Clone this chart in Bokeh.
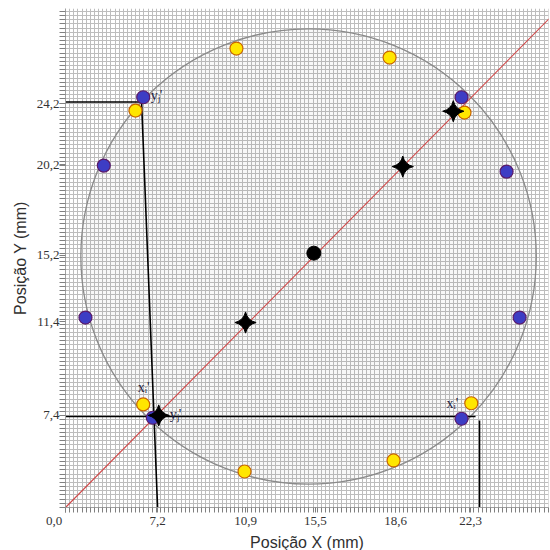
import numpy as np
from bokeh.plotting import figure
from bokeh.models import Range1d, FixedTicker
from bokeh.core.properties import value
from bokeh.embed import file_html
from bokeh.resources import INLINE

# ---- data (mm) ----
blue_x = [4.71, 24.00, 2.32, 26.73, 1.21, 27.52, 5.29, 24.00]
blue_y = [24.60, 24.60, 20.50, 20.14, 11.39, 11.39, 5.38, 5.32]
yellow_x = [10.36, 19.64, 4.24, 24.18, 4.71, 24.59, 10.85, 19.88]
yellow_y = [27.52, 26.98, 23.80, 23.68, 6.18, 6.25, 2.16, 2.82]
star_x = [5.65, 10.91, 20.44, 23.50]
star_y = [5.52, 11.09, 20.44, 23.76]
center_x = [15.05]
center_y = [15.25]
diag_x = [0.0, 29.3]
diag_y = [0.0, 29.3]
sample_cx = [14.73]
sample_cy = [15.05]
sample_r = 13.8
guide_xs = [[0.0, 4.61, 5.58], [0.0, 24.85], [25.09, 25.09]]
guide_ys = [[24.31, 24.31, 0.0], [5.46, 5.46], [5.22, 0.0]]
ann_text = ["yⱼ'", "xᵢ'", "yⱼ'", "xᵢ'"]
ann_x = [5.52, 4.73, 6.67, 23.45]
ann_y = [24.70, 7.19, 5.58, 6.24]
xtick_pos = [0.0, 5.58, 10.91, 15.15, 20.0, 24.55]
xtick_labels = ["0,0" + "\u00a0" * 7, "7,2", "10,9", "15,5", "18,6", "22,3"]
ytick_pos = [5.52, 11.15, 15.11, 20.56, 24.22]
ytick_labels = ["7,4", "11,4", "15,2", "20,2", "24,2"]
x_title = "Posição X (mm)"
y_title = "Posição Y (mm)"

XMAX, YMAX = 29.27, 29.92
p = figure(frame_width=483, frame_height=499,
           x_range=Range1d(0, XMAX), y_range=Range1d(0, YMAX),
           output_backend="svg", toolbar_location=None,
           min_border_left=65, min_border_right=2,
           min_border_top=8, min_border_bottom=43)
p.outline_line_color = None

# graph-paper grid
grid_x = list(np.arange(0, XMAX, 0.25))
grid_y = list(np.arange(0, YMAX, 0.25))
p.xgrid.ticker = FixedTicker(ticks=grid_x)
p.ygrid.ticker = FixedTicker(ticks=grid_y)
for g in (p.xgrid, p.ygrid):
    g.grid_line_color = "#bdbdbd"
    g.grid_line_width = 1

# axes
p.xaxis.ticker = FixedTicker(ticks=xtick_pos, minor_ticks=grid_x)
p.yaxis.ticker = FixedTicker(ticks=ytick_pos, minor_ticks=grid_y)
p.xaxis.major_label_overrides = dict(zip(xtick_pos, xtick_labels))
p.yaxis.major_label_overrides = dict(zip(ytick_pos, ytick_labels))
for ax in (p.xaxis, p.yaxis):
    ax.axis_line_color = "#a0a0a0"
    ax.major_tick_line_color = "#808080"
    ax.minor_tick_line_color = "#808080"
    ax.major_tick_in = 0
    ax.minor_tick_in = 0
    ax.major_label_text_font = "Liberation Serif"
    ax.major_label_text_font_size = "13px"
    ax.major_label_text_color = "#333333"
    ax.axis_label_text_font = "Liberation Sans"
    ax.axis_label_text_font_size = "16px"
    ax.axis_label_text_font_style = "normal"
    ax.axis_label_text_color = "#303030"
p.xaxis.major_tick_out = 5
p.xaxis.minor_tick_out = 5
p.xaxis.major_label_standoff = 0
p.xaxis.axis_label_standoff = 3
p.yaxis.major_tick_out = 6
p.yaxis.minor_tick_out = 6
p.yaxis.major_label_standoff = 0
p.yaxis.axis_label_standoff = 5
p.xaxis.axis_label = x_title
p.yaxis.axis_label = y_title

# sample outline
p.circle(x=sample_cx, y=sample_cy, radius=sample_r, fill_color="#808080",
         fill_alpha=0.06, line_color="#8a8a8a", line_width=1.3)

# reference diagonal
p.line(diag_x, diag_y, line_color="#d04848", line_width=1.1)

# black guide lines
p.multi_line(guide_xs, guide_ys, line_color="black", line_width=1.6)

# points
p.scatter(blue_x, blue_y, size=13, marker="circle", fill_color="#3d3dc4",
          line_color="#5a1a6a", line_width=1.2)
p.scatter(yellow_x, yellow_y, size=13, marker="circle", fill_color="#ffe600",
          line_color="#c86400", line_width=1.2)
p.scatter(star_x, star_y, size=15, marker="square_pin", angle=np.pi / 4,
          fill_color="black", line_color="black")
p.scatter(center_x, center_y, size=14, marker="circle", fill_color="black",
          line_color="black")

p.text(ann_x, ann_y, text=ann_text, text_font=value("Liberation Serif"),
       text_font_size="14px", text_color="#1e1e40", text_align="center",
       text_baseline="middle")

open("out.html", "w").write(file_html(p, INLINE))
